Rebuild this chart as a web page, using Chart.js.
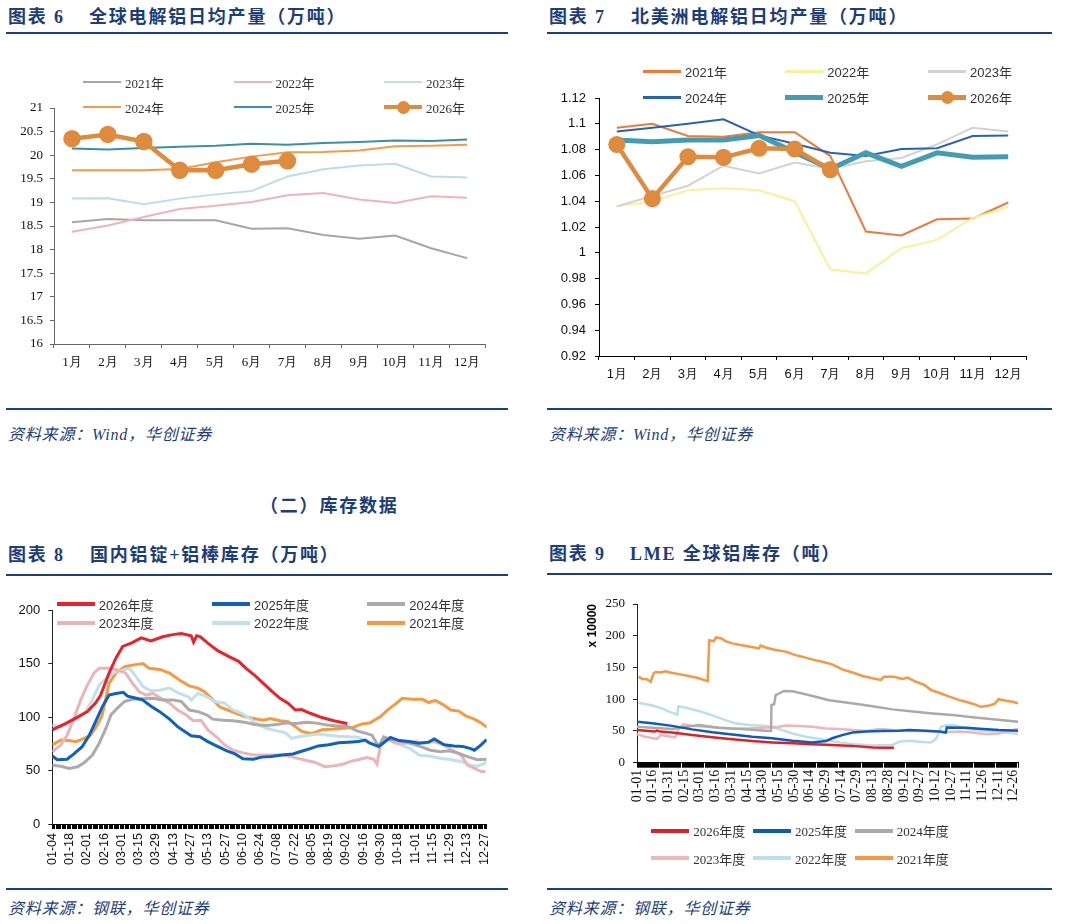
<!DOCTYPE html>
<html>
<head>
<meta charset="utf-8">
<script src="https://cdn.jsdelivr.net/npm/chart.js@4.4.1/dist/chart.umd.min.js"></script>
<style>
  body { margin: 0; width: 1066px; height: 924px; position: relative; background: #fff; overflow: hidden; }
  .t { position: absolute; white-space: nowrap; color: #1c3d7c; font-weight: bold; font-size: 18px; line-height: 18px;
       font-family: "Liberation Serif", "Noto Sans CJK SC", serif; letter-spacing: 1.8px; }
  .rule { position: absolute; height: 2px; background: #1c3d7c; }
  .src { position: absolute; white-space: nowrap; color: #1c3d7c; font-size: 16px; line-height: 16px; font-style: italic;
         font-family: "Liberation Serif", "Noto Sans CJK SC", serif; letter-spacing: 0.8px; }
  canvas { position: absolute; }
  .leg { position: absolute; height: 20px; display: flex; align-items: center; white-space: nowrap; color: #333; }
  .leg i { display: block; width: 38px; position: relative; margin-right: 4px; }
  .leg b { position: absolute; left: 12.5px; width: 13px; height: 13px; border-radius: 50%; }
</style>
</head>
<body>

<div class="t" style="left:8px;top:8px">图表 6</div>
<div class="t" style="left:89px;top:8px">全球电解铝日均产量（万吨）</div>
<div class="rule" style="left:6px;top:32px;width:502px"></div>
<canvas id="c6" width="520" height="360" style="left:0;top:40px"></canvas>
<div class="rule" style="left:6px;top:408px;width:502px"></div>
<div class="src" style="left:8px;top:427px">资料来源：Wind，华创证券</div>

<div class="t" style="left:549px;top:8px">图表 7</div>
<div class="t" style="left:631px;top:8px">北美洲电解铝日均产量（万吨）</div>
<div class="rule" style="left:547px;top:32px;width:505px"></div>
<canvas id="c7" width="533" height="360" style="left:533px;top:40px"></canvas>
<div class="rule" style="left:547px;top:408px;width:505px"></div>
<div class="src" style="left:549px;top:427px">资料来源：Wind，华创证券</div>

<div class="t" style="left:260px;top:497px">（二）库存数据</div>

<div class="t" style="left:8px;top:546px">图表 8</div>
<div class="t" style="left:90px;top:546px">国内铝锭+铝棒库存（万吨）</div>
<div class="rule" style="left:6px;top:574px;width:502px"></div>
<canvas id="c8" width="520" height="300" style="left:0;top:580px"></canvas>
<div class="rule" style="left:6px;top:888px;width:502px"></div>
<div class="src" style="left:8px;top:901px">资料来源：钢联，华创证券</div>

<div class="t" style="left:549px;top:545px">图表 9</div>
<div class="t" style="left:630px;top:545px">LME 全球铝库存（吨）</div>
<div class="rule" style="left:547px;top:573px;width:505px"></div>
<canvas id="c9" width="533" height="300" style="left:533px;top:580px"></canvas>
<div class="rule" style="left:547px;top:888px;width:505px"></div>
<div class="src" style="left:549px;top:901px">资料来源：钢联，华创证券</div>

<script>
// ---------- 图表6 全球电解铝日均产量（万吨） ----------
const months = ['1月', '2月', '3月', '4月', '5月', '6月', '7月', '8月', '9月', '10月', '11月', '12月'];
const years = ['2021年', '2022年', '2023年', '2024年', '2025年', '2026年'];
const global2021 = [18.58, 18.65, 18.62, 18.62, 18.62, 18.44, 18.45, 18.31, 18.23, 18.30, 18.03, 17.82];
const global2022 = [18.38, 18.51, 18.69, 18.86, 18.93, 19.01, 19.15, 19.20, 19.06, 18.99, 19.13, 19.10];
const global2023 = [19.08, 19.09, 18.96, 19.08, 19.17, 19.24, 19.55, 19.70, 19.78, 19.82, 19.55, 19.53];
const global2024 = [19.68, 19.68, 19.68, 19.71, 19.85, 19.97, 20.06, 20.07, 20.10, 20.19, 20.20, 20.22];
const global2025 = [20.14, 20.12, 20.15, 20.18, 20.20, 20.24, 20.22, 20.26, 20.28, 20.31, 20.30, 20.33];
const global2026 = [20.35, 20.44, 20.29, 19.68, 19.68, 19.81, 19.88];

// ---------- 图表7 北美洲电解铝日均产量（万吨） ----------
const na2021 = [1.097, 1.100, 1.0905, 1.090, 1.0935, 1.0935, 1.075, 1.0165, 1.0135, 1.026, 1.0265, 1.039];
const na2022 = [1.036, 1.040, 1.0485, 1.050, 1.0485, 1.040, 0.987, 0.984, 1.0035, 1.010, 1.027, 1.0355];
const na2023 = [1.036, 1.044, 1.052, 1.0675, 1.0615, 1.070, 1.065, 1.071, 1.0735, 1.084, 1.097, 1.094];
const na2024 = [1.094, 1.097, 1.100, 1.1035, 1.091, 1.0845, 1.0775, 1.075, 1.0805, 1.081, 1.0905, 1.091];
const na2025 = [1.0875, 1.086, 1.0875, 1.0875, 1.091, 1.078, 1.065, 1.0775, 1.067, 1.0775, 1.074, 1.0745];
const na2026 = [1.084, 1.042, 1.0745, 1.074, 1.081, 1.0805, 1.0645];

// ---------- 图表8 国内铝锭+铝棒库存（万吨），x = 自01-04起的天数 ----------
const seasons = ['2026年度', '2025年度', '2024年度', '2023年度', '2022年度', '2021年度'];
const inv8Labels = ['01-04', '01-18', '02-01', '02-16', '03-01', '03-15', '03-29', '04-13', '04-27', '05-13', '05-27', '06-10', '06-24',
  '07-08', '07-22', '08-05', '08-19', '09-02', '09-16', '09-30', '10-18', '11-01', '11-15', '11-29', '12-13', '12-27'];
const inv2026 = [[0, 88], [11, 94], [19, 99], [28.5, 105], [35, 113], [39, 120], [46, 141], [51.5, 155], [57, 166], [64, 169],
  [72, 174], [80, 171], [89.5, 175], [97.5, 177], [104.5, 178], [112.5, 176], [114.5, 170], [117, 176], [120, 175], [126, 169],
  [134, 162], [144, 156], [151, 152], [157, 145.5], [164, 139], [171, 131.5], [178, 124], [184.5, 117.5], [191, 113],
  [197, 106.5], [202, 107], [209, 103.5], [218.5, 99.5], [228, 96.5], [239, 94]];
const inv2025 = [[0, 63.5], [4, 60], [12, 60.5], [17.5, 65.5], [24, 72], [30, 83], [35, 95.5], [40.5, 109.5], [46, 120.5],
  [51.5, 122], [57.5, 123], [61, 119.5], [68, 117.5], [73, 116], [80, 110], [87, 105], [95, 98], [101.5, 91], [108.5, 85.5],
  [112.5, 82.5], [119.5, 81.5], [126, 77], [133, 73], [141, 68.5], [148, 65.5], [154.5, 61], [163, 60.5], [169.5, 62.5],
  [177.5, 63], [186, 64.5], [195, 65.5], [202, 68], [209, 70.5], [215.5, 73], [224, 74], [232, 76], [240, 76.5], [248, 77],
  [253.5, 78.5], [257.5, 75.5], [264.5, 72.5], [268.5, 76], [274, 81], [281, 78], [289, 77], [297, 75.5], [305, 76.5],
  [309.5, 79.5], [317.5, 74], [325.5, 73], [332.5, 72.5], [339, 70.5], [342, 69], [347.5, 74], [352, 79]];
const inv2024 = [[0, 55], [7, 54], [13.5, 52], [20.5, 53.5], [26, 57.5], [32.5, 64.5], [38, 75.5], [43.5, 89.5], [47.5, 102],
  [53, 108.5], [58.5, 114.5], [65, 116.5], [73.5, 117], [81.5, 117.5], [89.5, 116], [97.5, 116], [104.5, 114.5], [111, 106.5],
  [118, 105], [125, 102], [130, 98], [138.5, 97], [146.5, 96.5], [156, 95], [164, 93], [173.5, 92], [182, 93], [190, 94.5],
  [198, 94], [206, 95], [213, 94.5], [222.5, 92.5], [230.5, 91.5], [238.5, 91.5], [247, 87], [255, 84.5], [259, 83],
  [264.5, 72.5], [268.5, 81.5], [274, 79], [282, 78], [290, 75.5], [298, 72.5], [306.5, 69], [314.5, 67.5], [321.5, 68.5],
  [329.5, 66], [336.5, 63], [344.5, 60], [352, 60.5]];
const inv2023 = [[0, 67.5], [7, 74], [12, 83], [17.5, 98.5], [23, 116], [28.5, 130], [34, 141.5], [38, 145.5], [45, 145.5],
  [53, 144], [59.5, 141], [65, 131.5], [70.5, 123.5], [76, 120.5], [81.5, 122], [88, 117.5], [95, 113], [101.5, 106.5],
  [108.5, 102], [114, 96.5], [120.5, 97], [126, 88], [133, 81.5], [139.5, 74], [146.5, 69], [154.5, 66.5], [163, 64.5],
  [171, 64.5], [179, 64.5], [187, 64.5], [195, 62.5], [203.5, 60], [213, 57.5], [221, 53.5], [229, 54.5], [236, 56],
  [241.5, 58.5], [249.5, 60.5], [255, 62], [260.5, 60.5], [263, 56], [266, 72.5], [271, 80], [278, 75.5], [286, 75.5],
  [294, 77], [301, 75.5], [309, 77], [317.5, 74], [324, 69], [331, 64.5], [336.5, 55], [342, 52], [347.5, 49], [351, 49]];
const inv2022 = [[0, 92.5], [8, 91], [15, 95.5], [21.5, 99.5], [27, 105], [32.5, 116], [38, 130], [45, 137.5], [51.5, 142.5],
  [57, 144], [62.5, 145.5], [68, 137.5], [73.5, 128.5], [80, 124.5], [87, 125], [95, 127], [103, 122], [110, 119], [112.5, 116],
  [118, 122], [125, 119], [131.5, 114.5], [139.5, 113], [146.5, 106.5], [153.5, 103.5], [160, 98.5], [167, 92.5], [173.5, 89.5],
  [182, 87], [188.5, 85.5], [194, 80], [199.5, 81.5], [207.5, 83], [215.5, 84], [224, 83], [232, 82], [240, 81.5], [248, 81],
  [256.5, 75.5], [263, 72.5], [268.5, 78.5], [275.5, 79], [282, 74], [290, 70.5], [297, 64.5], [305, 63.5], [314.5, 61.5],
  [323, 60], [331, 58.5], [339, 55], [344.5, 54], [352, 57.5]];
const inv2021 = [[0, 74], [7, 78.5], [13.5, 78], [19, 77], [26, 80], [31, 83], [36.5, 92.5], [40.5, 102], [46, 131.5],
  [51.5, 141], [58.5, 147], [65, 148.5], [73.5, 150], [78.5, 145.5], [87, 144.5], [95, 141], [103, 134.5], [111, 129],
  [118, 127], [123.5, 123.5], [129, 117.5], [135.5, 109.5], [141, 107], [149, 103.5], [156, 100.5], [163, 98.5], [171, 97],
  [176.5, 98.5], [184.5, 96.5], [191, 95.5], [197, 91], [202, 86.5], [210, 84.5], [218.5, 88], [226.5, 88.5], [236, 89.5],
  [244, 90.5], [251, 93.5], [257.5, 94.5], [266, 100.5], [271.5, 106.5], [278, 112], [283.5, 117.5], [291.5, 116.5],
  [300, 116.5], [305, 113.5], [310.5, 115.5], [317.5, 111], [323, 106.5], [329.5, 105.5], [335, 101], [342, 98], [347.5, 94.5],
  [352, 90.5]];

// ---------- 图表9 LME全球铝库存（万吨），x = 自01-01起的天数 ----------
const lmeLabels = ['01-01', '01-16', '01-31', '02-15', '03-01', '03-16', '03-31', '04-15', '04-30', '05-15', '05-30', '06-14',
  '06-29', '07-14', '07-29', '08-13', '08-28', '09-12', '09-27', '10-12', '10-27', '11-11', '11-26', '12-11', '12-26'];
const lme2026 = [[0, 51.5], [17, 49], [19, 50.5], [22, 49], [33.5, 47.5], [52.5, 43.5], [72, 40], [91, 37], [110, 34], [129, 32],
  [148.5, 30.5], [167.5, 29], [186.5, 28], [206, 26.5], [225, 24], [234.5, 23.5], [245.5, 23.5]];
const lme2025 = [[0, 64.5], [14.5, 62], [33.5, 58], [52.5, 52.5], [72, 48], [91, 44.5], [110, 41], [129, 38.5], [148.5, 34.5],
  [167.5, 32], [180.5, 34], [186.5, 38.5], [196, 43.5], [206, 47.5], [218.5, 49], [234.5, 50], [250.5, 50.5], [260, 51.5],
  [276, 50.5], [289, 49], [295, 47.5], [296, 55.5], [314.5, 55], [330.5, 53], [346, 51.5], [364, 50.5]];
const lme2024 = [[0, 56.5], [14.5, 55], [33.5, 53], [59, 59.5], [78, 55], [103.5, 52.5], [123, 50.5], [128, 50], [128.5, 91],
  [131, 92], [132.5, 106.5], [135.5, 109], [140.5, 113], [148.5, 112.5], [158, 109], [170.5, 104], [183.5, 98.5], [196, 95.5],
  [212, 92], [228, 88], [244, 84], [263.5, 80.5], [282.5, 77.5], [301.5, 75], [320.5, 71.5], [340, 68.5], [364, 64.5]];
const lme2023 = [[0, 45], [8, 41], [19, 37.5], [22.5, 43.5], [28.5, 42], [36.5, 40], [40, 54], [44.5, 60.5], [52.5, 58],
  [65.5, 56.5], [78, 55], [91, 54], [107, 54], [123, 55.5], [135.5, 56.5], [142, 58.5], [155, 58], [167.5, 56.5], [180.5, 54],
  [193, 53], [206, 51.5], [218.5, 50], [231.5, 53], [244, 51.5], [257, 50], [269.5, 50], [282.5, 49], [295, 48], [308, 49],
  [320.5, 47.5], [333.5, 45], [346, 46], [359, 51.5], [364, 53]];
const lme2022 = [[1.5, 94.5], [14.5, 90], [24, 85.5], [30.5, 80.5], [38.5, 76], [39.5, 89], [46.5, 86.5], [59, 81.5],
  [72, 74.5], [84.5, 67], [94, 62], [107, 59.5], [123, 58], [135.5, 53], [148.5, 46], [161, 41], [177, 37], [193, 32], [209, 29],
  [225, 27], [244, 28], [250.5, 33], [260, 34.5], [269.5, 33], [281, 32], [286, 38.5], [290.5, 56.5], [295, 58.5],
  [303, 59.5], [314.5, 54], [330.5, 50], [346, 49], [364, 45]];
const lme2021 = [[1.5, 135.5], [5, 132], [9.5, 131.5], [13, 127.5], [16, 141], [18, 143], [22.5, 142], [27, 144], [32, 142],
  [40, 139.5], [49.5, 136.5], [59, 133], [67.5, 128.5], [69, 193], [73.5, 191.5], [75.5, 197.5], [80, 196], [84.5, 191.5],
  [91, 188], [99, 185.5], [107, 183], [116.5, 180], [118, 184.5], [123, 181.5], [132.5, 177.5], [142, 175], [151.5, 169.5],
  [155, 168], [161, 165.5], [169, 162], [177, 159], [186.5, 155], [196, 147], [206, 142], [215.5, 136.5], [225, 133],
  [233, 130.5], [236, 135.5], [245.5, 135.5], [253.5, 132], [258.5, 134], [266.5, 127.5], [274.5, 122.5], [281, 114.5],
  [290.5, 109], [298.5, 104], [308, 98.5], [317.5, 94.5], [324, 91], [328.5, 88], [336.5, 90], [341.5, 92.5], [345.5, 100],
  [352.5, 97.5], [359, 96], [364, 93.5]];

// ---------- helpers ----------
function line(label, data, color, width, extra) {
  return Object.assign({ label, data, borderColor: color, backgroundColor: color, borderWidth: width, pointRadius: 0,
    tension: 0, fill: false }, extra || {});
}

function axis(font, pad, color) {
  return {
    border: { display: true, color, width: 1 },
    grid: { display: true, drawOnChartArea: false, drawTicks: true, tickLength: 4, color },
    ticks: { color: '#111', font, padding: pad }
  };
}

function everyUnit(max) {
  const t = [];
  for (let v = 0; v <= max; v++) t.push({ value: v });
  return t;
}

function htmlLegend(chart, cols, rows, font, widths) {
  chart.data.datasets.forEach((ds, i) => {
    const el = document.createElement('div');
    el.className = 'leg';
    el.style.left = cols[i % 3] + 'px';
    el.style.top = (rows[Math.floor(i / 3)] - 10) + 'px';
    el.style.font = font;
    const sw = document.createElement('i');
    sw.style.height = widths[i] + 'px';
    sw.style.background = ds.borderColor;
    if (ds.pointRadius) {
      const dot = document.createElement('b');
      dot.style.background = ds.borderColor;
      dot.style.top = (widths[i] - 13) / 2 + 'px';
      sw.appendChild(dot);
    }
    el.appendChild(sw);
    el.appendChild(document.createTextNode(ds.label));
    document.body.appendChild(el);
  });
}

const base = { responsive: false, animation: false, plugins: { legend: { display: false }, tooltip: { enabled: false } } };
const serif13 = { family: 'Liberation Serif', size: 13 };
const sans13 = { family: 'Liberation Sans', size: 13 };

// ---------- chart 6 ----------
const x6 = axis(serif13, 7, '#666');
x6.offset = true;
x6.grid.offset = true;
x6.afterFit = s => { s.height = 40; };
const y6 = axis(serif13, 7, '#666');
y6.min = 16; y6.max = 21;
y6.ticks.stepSize = 0.5;
y6.ticks.callback = v => String(+v.toFixed(1));
y6.afterFit = s => { s.width = 50; };

const chart6 = new Chart(document.getElementById('c6'), {
  type: 'line',
  data: {
    labels: months,
    datasets: [
      line(years[0], global2021, '#a6a6a6', 2, { order: 0 }),
      line(years[1], global2022, '#f0b4b8', 2, { order: -1 }),
      line(years[2], global2023, '#b9deea', 2, { order: -2 }),
      line(years[3], global2024, '#f79a48', 2, { order: -3 }),
      line(years[4], global2025, '#3b8fa6', 2, { order: -4 }),
      line(years[5], global2026, '#df8b3e', 4.5, { order: -5, pointRadius: 6.5, pointBackgroundColor: '#df8b3e' })
    ]
  },
  options: Object.assign({}, base, {
    layout: { padding: { left: 4, right: 35, top: 68, bottom: 16 } },
    scales: { x: x6, y: y6 }
  })
});
htmlLegend(chart6, [83, 233.5, 384], [82, 107], '13px "Liberation Serif", "Noto Sans CJK SC"', [2.5, 2.5, 2.5, 2.5, 2.5, 4.5]);

// ---------- chart 7 ----------
const x7 = axis(sans13, 7, '#000');
x7.offset = true;
x7.grid.offset = true;
x7.afterFit = s => { s.height = 40; };
const y7 = axis(sans13, 9, '#000');
y7.min = 0.92; y7.max = 1.12;
y7.ticks.stepSize = 0.02;
y7.ticks.callback = v => String(+v.toFixed(2));
y7.afterFit = s => { s.width = 50; };

const chart7 = new Chart(document.getElementById('c7'), {
  type: 'line',
  data: {
    labels: months,
    datasets: [
      line(years[0], na2021, '#ee7a3a', 2, { order: 0 }),
      line(years[1], na2022, '#fbf09a', 2, { order: -1 }),
      line(years[2], na2023, '#d2d2d2', 2, { order: -2 }),
      line(years[3], na2024, '#2563b3', 2, { order: -3 }),
      line(years[4], na2025, '#439db2', 5, { order: -4 }),
      line(years[5], na2026, '#df8b3e', 4.5, { order: -5, pointRadius: 6.3, pointBackgroundColor: '#df8b3e' })
    ]
  },
  options: Object.assign({}, base, {
    layout: { padding: { left: 16, right: 40, top: 58, bottom: 4 } },
    scales: { x: x7, y: y7 }
  })
});
htmlLegend(chart7, [643, 785.3, 928], [71.7, 97.3], '13px "Liberation Sans", "Noto Sans CJK SC"', [2.5, 2.5, 2.5, 2.5, 5, 4.5]);

// ---------- chart 8 ----------
const x8 = axis({ family: 'Liberation Sans', size: 12.5 }, 4, '#000');
x8.type = 'linear';
x8.min = 0; x8.max = 352;
x8.afterBuildTicks = s => { s.ticks = everyUnit(352); };
x8.grid.tickLength = 5;
x8.ticks.autoSkip = false;
x8.ticks.maxRotation = 90; x8.ticks.minRotation = 90;
x8.ticks.callback = v => (v % 14 === 0 ? inv8Labels[v / 14] : '');
x8.afterFit = s => { s.height = 50; };
const y8 = axis(sans13, 8, '#222');
y8.min = 0; y8.max = 200;
y8.ticks.stepSize = 50;
y8.afterFit = s => { s.width = 45; };

const chart8 = new Chart(document.getElementById('c8'), {
  type: 'line',
  data: {
    datasets: [
      line(seasons[0], inv2026, '#e8232b', 3),
      line(seasons[1], inv2025, '#0f62bc', 3),
      line(seasons[2], inv2024, '#ababab', 3),
      line(seasons[3], inv2023, '#edb4b7', 3),
      line(seasons[4], inv2022, '#bee1ec', 3),
      line(seasons[5], inv2021, '#f8993f', 3)
    ]
  },
  options: Object.assign({}, base, {
    layout: { padding: { left: 7.3, right: 33.3, top: 30, bottom: 6 } },
    scales: { x: x8, y: y8 }
  })
});
htmlLegend(chart8, [56.7, 212, 367.3], [604, 622.7], '13px "Liberation Sans", "Noto Sans CJK SC"', [4, 4, 4, 4, 4, 4]);

// ---------- chart 9 ----------
const x9 = axis({ family: 'Liberation Serif', size: 14 }, 2, '#000');
x9.type = 'linear';
x9.min = 0; x9.max = 364;
x9.afterBuildTicks = s => { s.ticks = everyUnit(364); };
x9.grid.tickLength = 5;
x9.ticks.autoSkip = false;
x9.ticks.maxRotation = 90; x9.ticks.minRotation = 90;
x9.ticks.callback = v => (v % 15 === 0 ? lmeLabels[v / 15] : '');
x9.afterFit = s => { s.height = 45; };
const y9 = axis(serif13, 8, '#222');
y9.min = 0; y9.max = 250;
y9.ticks.stepSize = 50;
y9.title = { display: true, text: 'x 10000', align: 'end', color: '#000', padding: 0,
  font: { family: 'Liberation Sans', size: 12, weight: 'bold' } };
y9.afterFit = s => { s.width = 52; };

const chart9 = new Chart(document.getElementById('c9'), {
  type: 'line',
  data: {
    datasets: [
      line(seasons[0], lme2026, '#e41e25', 2.5),
      line(seasons[1], lme2025, '#0b5db7', 2.5),
      line(seasons[2], lme2024, '#aaaaaa', 2.5),
      line(seasons[3], lme2023, '#edb6b9', 2.5),
      line(seasons[4], lme2022, '#b9e0ec', 2.5),
      line(seasons[5], lme2021, '#f8973f', 2.5)
    ]
  },
  options: Object.assign({}, base, {
    layout: { padding: { left: 52, right: 48, top: 24, bottom: 72.3 } },
    scales: { x: x9, y: y9 }
  })
});
htmlLegend(chart9, [651.3, 753, 854.7], [830.7, 858.3], '13px "Liberation Serif", "Noto Sans CJK SC"', [4, 4, 4, 4, 4, 4]);
</script>
</body>
</html>
